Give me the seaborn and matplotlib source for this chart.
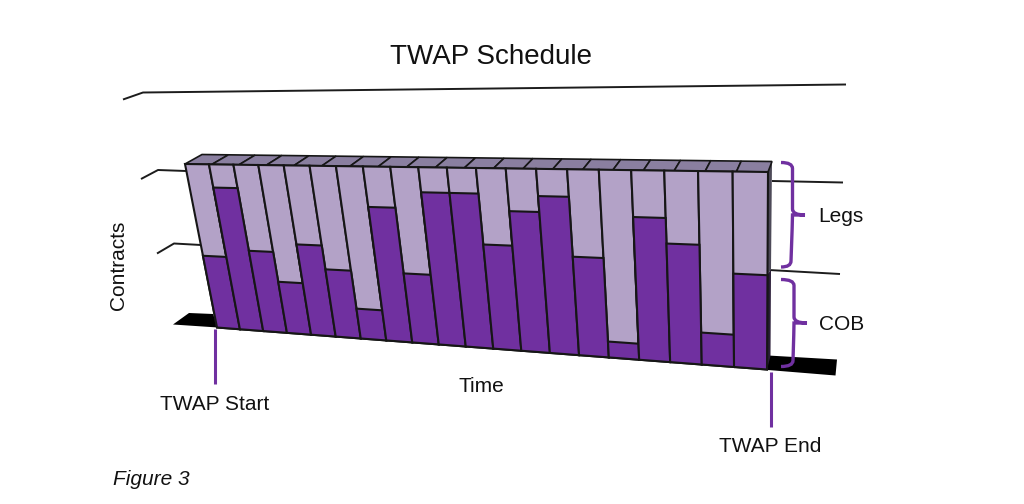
import numpy as np
import pandas as pd
import matplotlib
matplotlib.use('Agg')
import matplotlib.pyplot as plt
import seaborn as sns
from matplotlib.patches import PathPatch, Polygon
from matplotlib.path import Path
from matplotlib.transforms import Transform

slices = list(range(1, 21))
cob = [45.3, 86.6, 49.7, 31.7, 54.8, 40.8, 18.2, 77.8, 40.8, 86.6, 86.6, 59.2, 77.7, 86, 54.6, 9, 76.5, 63.5, 17.5, 49.5]
legs = [100 - c for c in cob]
cap_depth = [1] * 20

PURPLE = '#7030a0'
LIGHT = '#b3a2c7'
CAP = '#8a7fa0'
EDGE = '#161616'

sns.set_theme(style='white')
plt.rcParams['font.family'] = ['Liberation Sans', 'DejaVu Sans']


class Warp(Transform):
    # projective map from bar coordinates (slice, contracts) to picture pixels
    input_dims = 2
    output_dims = 2

    def __init__(self, quad, ymax):
        super().__init__()
        self.ymax = ymax
        src = [(0, 0), (1, 0), (1, 1), (0, 1)]
        a, b = [], []
        for (u, v), (px, py) in zip(src, quad):
            a.append([u, v, 1, 0, 0, 0, -u * px, -v * px])
            a.append([0, 0, 0, u, v, 1, -u * py, -v * py])
            b += [px, py]
        self.h = np.append(np.linalg.solve(np.array(a, float), np.array(b, float)), 1).reshape(3, 3)

    def transform_non_affine(self, values):
        values = np.asarray(values, float)
        u = (values[:, 0] + 0.5) / 20
        v = values[:, 1] / self.ymax
        p = np.column_stack([u, v, np.ones(len(u))]) @ self.h.T
        return p[:, :2] / p[:, 2:]


# corners: bottom left, bottom right, top right, top left
front_quad = [(217, 327.5), (767, 369.5), (768, 172), (185, 164)]
cap_quad = [(185, 164), (768, 172), (772, 161.5), (202, 154.5)]

df = pd.DataFrame({'slice': slices, 'cob': cob, 'legs': legs, 'cap': cap_depth})
df['total'] = df['cob'] + df['legs']

fig = plt.figure(figsize=(10.24, 5.04), dpi=100, facecolor='white')
ax = fig.add_axes([0, 0, 1, 1])

sns.barplot(data=df, x='slice', y='cap', color=CAP, saturation=1, width=1, ax=ax, edgecolor=EDGE, linewidth=1.2)
sns.barplot(data=df, x='slice', y='total', color=LIGHT, saturation=1, width=1, ax=ax, edgecolor=EDGE, linewidth=1.5)
sns.barplot(data=df, x='slice', y='cob', color=PURPLE, saturation=1, width=1, ax=ax, edgecolor=EDGE, linewidth=1.5)

ax.set_xlim(0, 1024)
ax.set_ylim(504, 0)
ax.axis('off')

front = Warp(front_quad, 100) + ax.transData
top = Warp(cap_quad, 1) + ax.transData
for i, bars in enumerate(ax.containers):
    for b in bars:
        b.set_transform(top if i == 0 else front)
        b.set_clip_on(False)
        b.set_zorder(3)

# back lines of the wall and floor
for xs, ys in [([123, 143, 846], [99.5, 92.5, 84.5]),
               ([141, 158, 186], [179, 170, 171]),
               ([157, 174, 201], [253.5, 243.5, 245]),
               ([772, 843], [181, 182.5]),
               ([769, 840], [270, 274])]:
    ax.plot(xs, ys, color='#1c1c1c', lw=1.4, zorder=1, solid_capstyle='butt')

# floor
ax.add_patch(Polygon([(173, 324.5), (189, 313), (213, 314), (218, 327.5)], fc='black', ec='none', zorder=2))
ax.add_patch(Polygon([(768, 355.5), (837, 359.5), (835.5, 375.5), (768, 370)], fc='black', ec='none', zorder=2))

# right side of the box
ax.add_patch(Polygon([(768, 172), (772, 161.5), (771, 270), (767.5, 274)], fc='#4d4a58', ec='none', zorder=2.5))
ax.add_patch(Polygon([(767.5, 274), (771, 270), (770.5, 356), (767, 369.5)], fc='#2a1d38', ec='none', zorder=2.5))


def bracket(x0, x1, x2, xn, y0, ym, y1):
    verts = [(x0, y0), (x1, y0), (x1, y0 + 6), (x1, ym - 6), (x1, ym), (xn, ym), (x1, ym), (x1, ym + 6),
             (x2, y1 - 6), (x2, y1), (x0, y1)]
    codes = [Path.MOVETO, Path.CURVE3, Path.CURVE3, Path.LINETO, Path.CURVE3, Path.LINETO, Path.LINETO, Path.CURVE3,
             Path.LINETO, Path.CURVE3, Path.CURVE3]
    ax.add_patch(PathPatch(Path(verts, codes), fc='none', ec=PURPLE, lw=2.4, zorder=4))


bracket(781, 792.5, 791, 805, 162.5, 215, 267)
bracket(781, 794, 793, 807, 279.5, 323, 366.5)

# start and end ticks
ax.plot([215, 215], [329, 384], color=PURPLE, lw=2.2, zorder=4, solid_capstyle='butt')
ax.plot([770.5, 770.5], [372, 427], color=PURPLE, lw=2.2, zorder=4, solid_capstyle='butt')

ax.text(491.5, 57.5, 'TWAP Schedule', fontsize=20, ha='center', va='center', color='#111111')
label = dict(fontsize=15, ha='center', va='center', color='#111111')
ax.text(481, 387, 'Time', **label)
ax.text(841, 216.5, 'Legs', **label)
ax.text(842, 324, 'COB', **label)
ax.text(215, 405, 'TWAP Start', **label)
ax.text(770, 447, 'TWAP End', **label)
ax.text(118.5, 265, 'Contracts', rotation=90, **label)
ax.text(151, 479.5, 'Figure 3', fontsize=15, style='italic', ha='center', va='center', color='#111111')

fig.savefig('out.png', dpi=100, facecolor='white')
